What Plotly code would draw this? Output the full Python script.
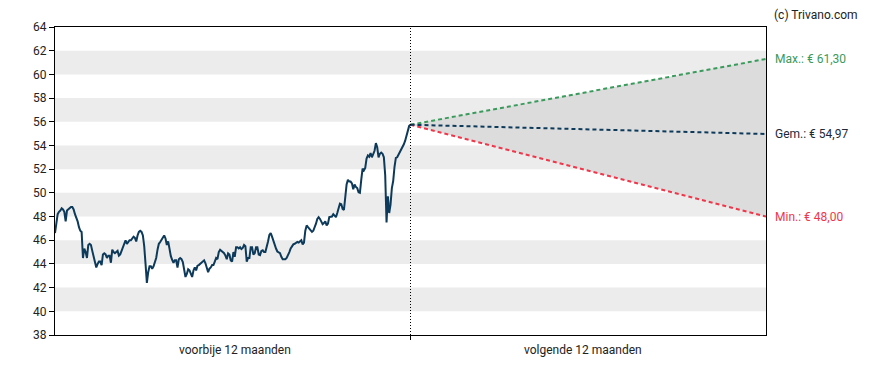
import numpy as np
import plotly.graph_objects as go

# ---- data ----
past_prices = [
    46.6, 47.6, 48.2, 48.4, 48.5, 48.7, 48.6, 48.4, 47.6, 48.5, 48.6, 48.7, 48.8, 48.8, 48.6, 48.2,
    47.9, 47.6, 47.1, 46.8, 46.7, 44.5, 45.3, 45.0, 44.5, 45.6, 45.7, 45.6, 45.1, 44.6, 44.3, 43.7,
    44.0, 44.2, 44.2, 43.9, 44.8, 44.9, 44.8, 44.5, 44.7, 44.7, 44.1, 45.2, 45.0, 44.9, 45.0, 45.1,
    44.7, 44.8, 45.1, 45.4, 45.7, 46.0, 45.7, 45.9, 46.0, 46.0, 46.2, 46.3, 46.2, 45.9, 46.4, 46.7,
    46.8, 46.7, 46.4, 45.5, 44.0, 42.4, 43.3, 43.8, 43.8, 43.6, 43.8,
    44.1, 44.5, 45.2, 45.7, 45.85, 46.05, 46.25, 46.4, 46.15, 45.6, 45.9, 45.1, 44.65, 44.35, 44.1,
    44.3, 44.3, 43.7, 44.4, 44.5, 44.4, 44.15, 43.6, 42.9, 43.15, 43.55, 43.45, 43.2, 42.9, 43.45,
    43.7, 43.45, 43.85, 43.9, 44.0, 44.1, 44.25, 44.3, 44.05, 43.7, 43.3, 43.6, 43.7, 43.9, 43.9,
    44.2, 44.5, 44.4, 45.0, 45.2, 45.1, 45.0, 44.9, 44.7, 44.4, 44.9, 44.8, 44.3, 44.2, 45.0, 44.6,
    45.4, 45.4, 45.3, 45.4, 45.25, 45.35, 45.6, 45.5, 44.2, 44.5, 44.5,
    45.4, 45.4, 44.8, 44.9, 45.4, 45.4, 44.8, 44.75, 45.1, 45.15, 45.0, 45.0, 45.4, 45.9, 46.45,
    46.6, 46.3, 45.9, 45.5, 45.3, 45.05, 45.0, 44.9, 44.6, 44.4, 44.4, 44.4, 44.5, 44.7, 45.0,
    45.3, 45.5, 45.65, 45.7, 45.75, 45.85, 45.8, 45.9, 46.0, 45.65, 45.8, 46.8, 47.25, 47.1, 46.95,
    46.85, 46.7, 46.8, 47.05, 47.4, 47.8, 47.95, 47.8, 47.6, 47.35, 47.45, 47.6, 47.25, 47.4, 47.95,
    48.0, 48.0, 48.2, 48.1, 47.95, 48.3, 48.7, 49.1, 49.05, 48.65, 48.55,
    49.6, 50.7, 51.1, 50.95, 50.95, 50.8, 50.3, 50.7, 50.5, 50.4, 50.05, 50.0, 51.1, 52.05, 51.9,
    52.1, 52.9, 53.15, 53.05, 53.35, 53.0, 53.3, 53.55, 54.2, 53.85, 53.0, 53.3, 53.4, 53.3, 53.0,
    51.5, 47.5, 49.7, 48.3, 49.0, 50.4, 51.0, 52.2, 52.95, 53.0, 53.2, 53.45, 53.65, 53.9, 54.1,
    54.4, 54.9, 55.4, 55.65, 55.75,
]
forecast_start = 55.75
forecast_max = 61.30
forecast_avg = 54.97
forecast_min = 48.00
period_labels = ["voorbije 12 maanden", "volgende 12 maanden"]
y_ticks = list(range(38, 65, 2))
band_ranges = [(40, 42), (44, 46), (48, 50), (52, 54), (56, 58), (60, 62)]
label_texts = ["Max.: € 61,30", "Gem.: € 54,97", "Min.: € 48,00"]

# ---- styles ----
NAVY = "#0d3a5a"
GREEN = "#3a9a5c"
RED = "#f0364a"
BAND = "#ececec"
FILL = "#dcdcdc"
FONT = "Roboto"

n = len(past_prices)
x_past = np.linspace(0, 1, n)

fig = go.Figure()

# forecast cone
fig.add_trace(go.Scatter(
    x=[1, 2, 2, 1], y=[forecast_start, forecast_max, forecast_min, forecast_start],
    fill="toself", fillcolor=FILL, line=dict(width=0), mode="lines",
    hoverinfo="skip", showlegend=False))

for end, col in [(forecast_max, GREEN), (forecast_min, RED), (forecast_avg, NAVY)]:
    fig.add_trace(go.Scatter(
        x=[1, 2], y=[forecast_start, end], mode="lines",
        line=dict(color=col, width=2, dash="4px,3px"), showlegend=False))

fig.add_trace(go.Scatter(
    x=x_past, y=past_prices, mode="lines",
    line=dict(color=NAVY, width=2), showlegend=False))

shapes = []
for lo, hi in band_ranges:
    shapes.append(dict(type="rect", xref="x", yref="y", x0=0, x1=2, y0=lo, y1=hi,
                       fillcolor=BAND, line=dict(width=0), layer="below"))
shapes.append(dict(type="line", xref="x", yref="y", x0=1, x1=1, y0=38, y1=64,
                   line=dict(color="black", width=1, dash="1px,2px")))

annotations = [
    dict(x=0.5, y=0, xref="x", yref="paper", text=period_labels[0], showarrow=False,
         yanchor="top", yshift=-6, xshift=2, font=dict(size=12, color="#222")),
    dict(x=1.5, y=0, xref="x", yref="paper", text=period_labels[1], showarrow=False,
         yanchor="top", yshift=-6, xshift=-5, font=dict(size=12, color="#222")),
    dict(x=1, y=1, xref="paper", yref="paper", text="(c) Trivano.com", showarrow=False,
         xanchor="left", yanchor="middle", xshift=6, yshift=12,
         font=dict(size=12, color="#222")),
]
for txt, val, col in zip(label_texts, [forecast_max, forecast_avg, forecast_min],
                         [GREEN, "#1c2a38", RED]):
    annotations.append(dict(x=2, y=val, xref="x", yref="y", text=txt, showarrow=False,
                            xanchor="left", yanchor="middle", xshift=7,
                            font=dict(size=12, color=col)))

# page body has an 8px margin, compensate so the plot lands where the reference has it
fig.update_layout(
    width=888, height=370,
    margin=dict(l=47, r=130, t=12, b=43),
    paper_bgcolor="white", plot_bgcolor="white",
    font=dict(family=FONT, size=12, color="#222"),
    shapes=shapes, annotations=annotations,
    xaxis=dict(range=[0, 2], showgrid=False, zeroline=False, showline=True,
               linecolor="black", linewidth=1, mirror=True,
               tickvals=[1], ticktext=[""], ticks="outside", ticklen=4,
               tickcolor="black", fixedrange=True),
    yaxis=dict(range=[38, 64], tickvals=y_ticks, showgrid=False, zeroline=False,
               showline=True, linecolor="black", linewidth=1, mirror=True,
               ticks="outside", ticklen=5, tickcolor="black",
               tickfont=dict(size=12, color="#222")),
    hovermode=False,
)

fig.write_html("out.html")
